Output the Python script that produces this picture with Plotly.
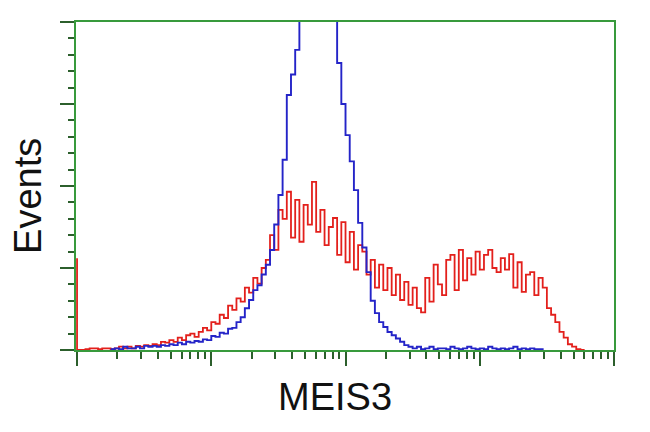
import math
import plotly.graph_objects as go

# Histogram channels (128 channels over 4 log decades)
red_counts = [112, 0, 0, 1, 2, 2, 1, 2, 2, 1, 2, 4, 2, 4, 2, 5, 4, 6, 5, 7,
              6, 10, 9, 12, 10, 15, 12, 18, 20, 16, 22, 27, 24, 34, 32, 43, 39, 54, 49, 63,
              59, 76, 70, 88, 81, 100, 110, 140, 122, 171, 160, 193, 137, 183, 132, 177, 153, 205, 144, 171,
              128, 150, 161, 116, 156, 107, 144, 98, 128, 120, 92, 110, 76, 104, 73, 100, 67, 92, 61, 83,
              55, 76, 51, 46, 88, 59, 104, 80, 67, 110, 116, 73, 122, 85, 112, 92, 120, 98, 116, 122,
              100, 95, 112, 98, 117, 76, 107, 71, 92, 95, 67, 88, 76, 51, 43, 34, 22, 15, 7, 4,
              1, 0]

blue_start = 8
blue_counts = [1, 2, 1, 4, 2, 2, 4, 2, 5, 4, 5, 4, 6, 5, 7, 6, 9, 7, 10, 9,
               11, 10, 13, 12, 17, 16, 21, 20, 26, 27, 34, 40, 51, 61, 73, 79, 92, 104, 122, 153,
               189, 232, 311, 336, 366, 415, 451, 488, 512, 500, 525, 506, 482, 451, 350, 300, 262, 230, 195, 155,
               125, 95, 60, 45, 34, 28, 22, 18, 14, 10, 6, 4, 2, 4, 1, 2, 4, 1, 2, 2,
               1, 4, 2, 1, 2, 4, 2, 1, 2, 1, 4, 2, 1, 2, 1, 2, 4, 1, 2, 1,
               2, 1, 1, 0]

n_channels = 128
decades = 4
y_max = 400

red_x = list(range(len(red_counts)))
blue_x = [blue_start + i for i in range(len(blue_counts))]

frame_green = "#389a3c"
tick_green = "#2c5f2c"

per_dec = n_channels / decades
x_major = [per_dec * d for d in range(decades + 1)]
x_minor = [per_dec * (d + math.log10(k)) for d in range(decades) for k in range(2, 10)]
y_major = [0, 100, 200, 300, 400]
y_minor = [v for v in range(0, 401, 20) if v % 100 != 0]

fig = go.Figure()
fig.add_trace(go.Scatter(x=red_x, y=red_counts, mode="lines",
                         line=dict(color="#e3201c", width=1.8, shape="vh"),
                         showlegend=False, hoverinfo="skip"))
fig.add_trace(go.Scatter(x=blue_x, y=blue_counts, mode="lines",
                         line=dict(color="#2424c8", width=1.9, shape="hv"),
                         showlegend=False, hoverinfo="skip"))

fig.update_layout(
    width=650, height=432,
    margin=dict(l=68, r=44, t=14, b=90),
    paper_bgcolor="white", plot_bgcolor="white",
    xaxis=dict(range=[-0.25, n_channels], tickmode="array", tickvals=x_major,
               ticks="outside", ticklen=14, tickwidth=2, tickcolor=tick_green,
               showticklabels=False, showgrid=False, zeroline=False,
               showline=True, linecolor=frame_green, linewidth=2, mirror=True,
               layer="below traces", automargin=False,
               minor=dict(tickmode="array", tickvals=x_minor, ticks="outside",
                          ticklen=7, tickwidth=2, tickcolor=tick_green, showgrid=False)),
    yaxis=dict(range=[0, y_max], tickmode="array", tickvals=y_major,
               ticks="outside", ticklen=14, tickwidth=2, tickcolor=tick_green,
               showticklabels=False, showgrid=False, zeroline=False,
               showline=True, linecolor=frame_green, linewidth=2, mirror=True,
               layer="below traces", automargin=False,
               minor=dict(tickmode="array", tickvals=y_minor, ticks="outside",
                          ticklen=6, tickwidth=2, tickcolor=tick_green, showgrid=False)),
    annotations=[
        dict(text="MEIS3", xref="paper", yref="paper", x=0.481, y=-0.143,
             xanchor="center", yanchor="middle", showarrow=False,
             font=dict(family="Liberation Sans, Arial", size=38, color="#111111")),
        dict(text="Events", xref="paper", yref="paper", x=-0.089, y=0.47,
             xanchor="center", yanchor="middle", showarrow=False, textangle=-90,
             font=dict(family="Liberation Sans, Arial", size=38, color="#111111")),
    ],
)

fig.write_html("out.html")
